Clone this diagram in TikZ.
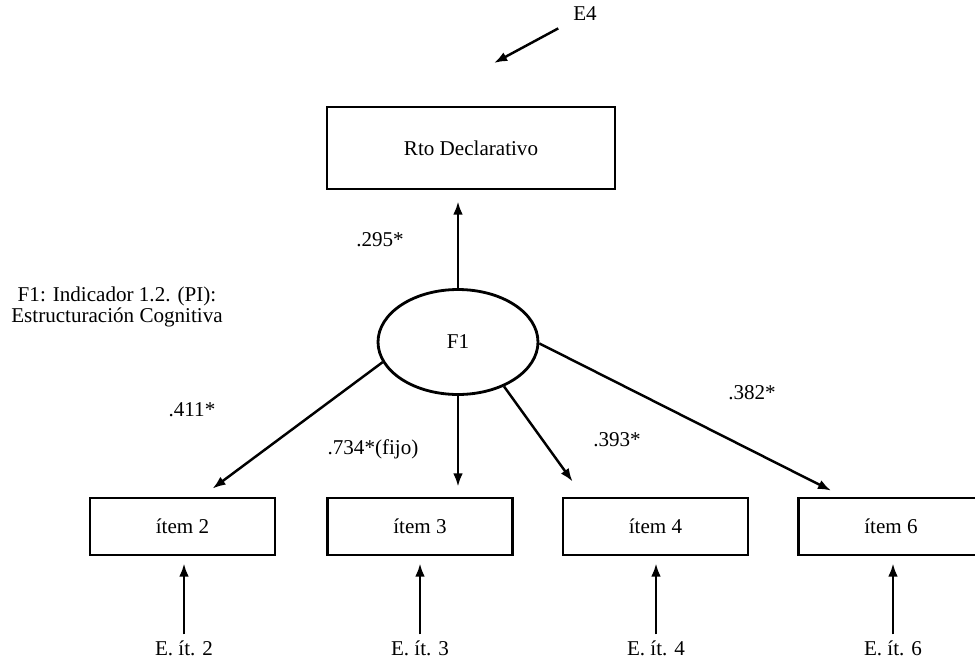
\documentclass[tikz,border=0pt]{standalone}
\usepackage{fontspec}
\setmainfont{Liberation Serif}
\usetikzlibrary{arrows.meta,calc,shapes.geometric}

\begin{document}
\begin{tikzpicture}[x=0.02cm,y=-0.02cm,
    every node/.style={font=\fontsize{12}{12}\selectfont},
    obsbox/.style={draw,line width=1.6pt,minimum width=3.7cm,minimum height=1.14cm},
    latent/.style={draw,ellipse,line width=1.6pt,minimum width=3.2cm,minimum height=2.1cm,inner sep=0pt},
    regarr/.style={line width=1.4pt,-{Latex[length=7.5pt,width=5.5pt]}}]
      \useasboundingbox (0,0) rectangle (975,664);

      \node[obsbox,minimum width=5.76cm,minimum height=1.64cm] (rto) at (471,148) {Rto Declarativo};
      \node[latent] (f1) at (458,342) {F1};
      \node[align=center] (f1txt) at (117,307) {F1: Indicador 1.2. (PI):\\Estructuración Cognitiva};

      \node[obsbox] (item2) at (182.5,526.5) {ítem 2};
      \node[obsbox] (item3) at (420,526.5) {ítem 3};
      \node[obsbox] (item4) at (655.5,526.5) {ítem 4};
      \node[obsbox] (item6) at (891,526.5) {ítem 6};

      \node (e4) at (585,14) {E4};
      \coordinate (e4end) at (494,63);
      \node (e2) at (184,648) {E. ít. 2};
      \node (e3) at (420,648) {E. ít. 3};
      \node (e6) at (893,648) {E. ít. 6};
      \node (e4t) at (656,648) {E. ít. 4};

      \node (w0) at (380,240) {.295*};
      \node (w2) at (192,410) {.411*};
      \node (w3) at (373,449) {.734*(fijo)};
      \node (w4) at (617,440) {.393*};
      \node (w6) at (752,393) {.382*};

      \draw[regarr,shorten <=0.2cm] (e4) -- (e4end);
      \draw[regarr,shorten >=0.22cm] (f1.north) -- (f1.north |- rto.south);
      \draw[regarr] (f1.195) -- ($(item2.north)+(30,-8)$);
      \draw[regarr,shorten >=0.2cm] (f1.south) -- (f1.south |- item3.north);
      \draw[regarr] (f1.316) -- ($(item4.north west)+(11,-15)$);
      \draw[regarr] (f1.359) -- ($(item6.north west)+(34,-6)$);

      \draw[regarr,shorten >=0.14cm] (e2) -- (e2 |- item2.south);
      \draw[regarr,shorten >=0.14cm] (e3) -- (e3 |- item3.south);
      \draw[regarr,shorten >=0.14cm] (e4t) -- (e4t |- item4.south);
      \draw[regarr,shorten >=0.14cm] (e6) -- (e6 |- item6.south);
\end{tikzpicture}
\end{document}
